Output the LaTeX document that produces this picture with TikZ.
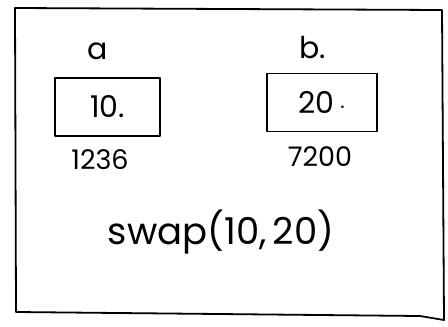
\documentclass[tikz,border=0pt]{standalone}
\usepackage{fontspec}
\setmainfont{Poppins}
\begin{document}
\begin{tikzpicture}[x=1pt,y=-1pt,
  ink/.style={line width=1.8pt,line join=round,line cap=round},
  cell/.style={draw,ink,minimum width=#1,inner sep=0pt,minimum height=58pt},
  lbl/.style={inner sep=0pt,font=\fontsize{30}{30}\selectfont},
  addr/.style={inner sep=0pt,font=\fontsize{27}{27}\selectfont}]
\useasboundingbox (0,0) rectangle (448,327);
\fill[white] (0,0) rectangle (448,327);
% frame
\coordinate (tl) at (15,8);
\coordinate (tr) at (442,10);
\coordinate (br) at (444,320);
\coordinate (bl) at (16,312);
\draw[ink] (tl) -- (tr) -- (br) -- (420,316) -- (bl) -- cycle;
% variable a
\node[cell=105pt] (boxa) at (107.5,107) {\fontsize{30}{30}\selectfont 10.};
\node[lbl] (na) at (98,51) {a};
\node[addr] (adra) at (100,160) {1236};
% variable b
\node[cell=110pt] (boxb) at (322,102.5) {\fontsize{30}{30}\selectfont 20\,$\cdot$};
\node[lbl] (nb) at (313,48) {b.};
\node[addr] (adrb) at (320,157) {7200};
% call
\node[inner sep=0pt,font=\fontsize{37}{37}\selectfont] (call) at (221,232) {swap(10,\,20)};
\end{tikzpicture}
\end{document}
